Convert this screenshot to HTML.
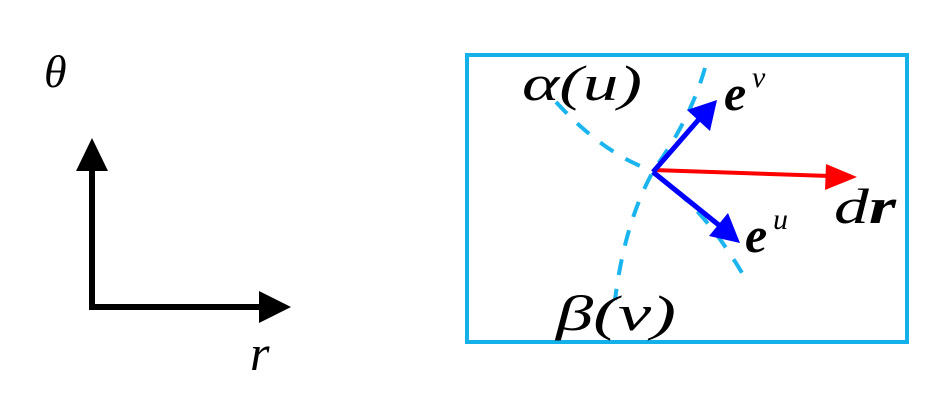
<!DOCTYPE html>
<html><head><style>
body{margin:0;background:#fff;width:938px;height:408px;overflow:hidden}
text{font-family:"Liberation Serif",serif;font-style:italic}
</style></head><body>
<svg width="938" height="408" viewBox="0 0 938 408">
<!-- left axes -->
<polyline points="92,170 92,307 260,307" fill="none" stroke="#000" stroke-width="6"/>
<polygon points="92,138 76,171 108,171" fill="#000"/>
<polygon points="291,307 259,291 259,323" fill="#000"/>
<text x="44" y="87" font-size="46">θ</text>
<text x="250" y="370" font-size="50">r</text>
<!-- box -->
<rect x="467" y="55" width="440" height="287" fill="none" stroke="#14b0ea" stroke-width="4"/>
<!-- dashed curves -->
<path d="M556,102 Q600,150 645,168 Q700,200 745,278" fill="none" stroke="#1ab4ee" stroke-width="4" stroke-dasharray="16,14"/>
<path d="M705,68 Q690,120 655,168 Q625,220 615,300" fill="none" stroke="#1ab4ee" stroke-width="4" stroke-dasharray="16,14"/>
<!-- dr -->
<line x1="653" y1="170" x2="830" y2="176" stroke="#f00" stroke-width="4"/>
<polygon points="857,177 826,164 825,190" fill="#f00"/>
<!-- e^v -->
<line x1="653" y1="172" x2="700" y2="118" stroke="#00f" stroke-width="5"/>
<polygon points="717,100 687,110 710,131" fill="#00f"/>
<!-- e^u -->
<line x1="653" y1="172" x2="720" y2="226" stroke="#00f" stroke-width="5"/>
<polygon points="740,243 709,236 728,213" fill="#00f"/>
<text x="522" y="100" font-size="50" textLength="120" lengthAdjust="spacingAndGlyphs">α(u)</text>
<text x="724" y="110" font-size="50" font-weight="bold">e</text><text x="752" y="87" font-size="30">v</text>
<text x="834" y="223" font-size="50" textLength="62" lengthAdjust="spacingAndGlyphs">d<tspan font-weight="bold">r</tspan></text>
<text x="745" y="252" font-size="50" font-weight="bold">e</text><text x="773" y="229" font-size="30">u</text>
<text x="556" y="330" font-size="50" textLength="120" lengthAdjust="spacingAndGlyphs">β(v)</text>
</svg>
</body></html>
